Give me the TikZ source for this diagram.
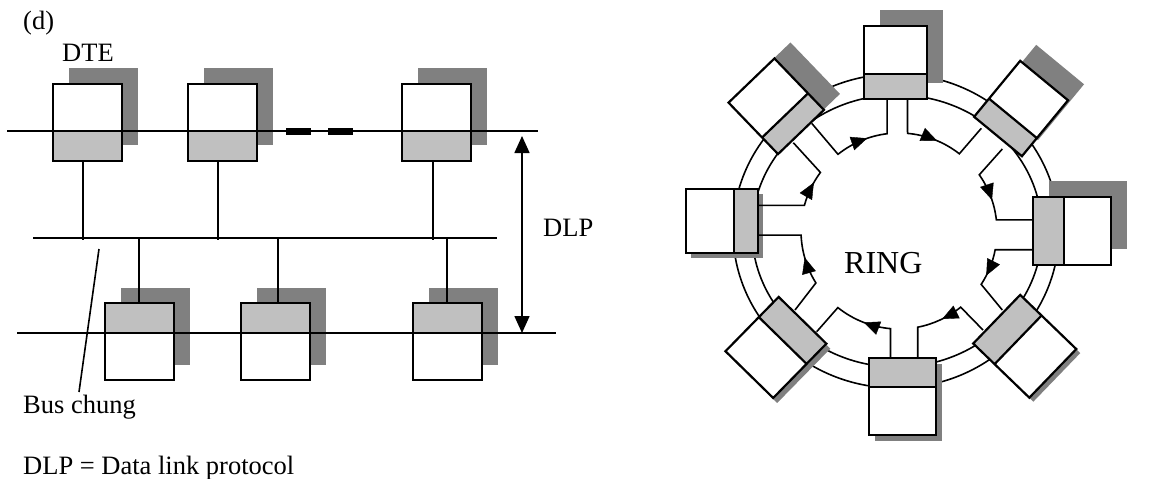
\documentclass[tikz,border=0pt]{standalone}
\usepackage{fontspec}
\setmainfont{Liberation Serif}
\usetikzlibrary{arrows.meta,decorations.markings,calc}
\definecolor{shadowc}{RGB}{128,128,128}
\definecolor{grayc}{RGB}{192,192,192}
\tikzset{
  wire/.style={line width=1.6pt},
  boxline/.style={line width=2.2pt, line join=miter},
  ringarrow/.style={postaction={decorate}, decoration={markings, mark=at position #1 with {\arrow{Triangle[length=16pt,width=14pt]}}}},
  lbl/.style={anchor=base west, inner sep=0pt, font=\fontsize{26.5}{30}\selectfont},
}
% top-row station: name, left x, top y, port x
\newcommand\dteup[4]{%
  \fill[shadowc] ({#2+16},{#3-16}) rectangle ++(69,77);
  \fill[white] (#2,#3) rectangle ++(69,77);
  \fill[grayc] ({#2},{#3+47}) rectangle ++(69,30);
  \draw[boxline] (#2,#3) rectangle ++(69,77);
  \coordinate (#1) at (#4,{#3+77});
}
% bottom-row station: name, left x, top y, port x
\newcommand\dtedown[4]{%
  \fill[shadowc] ({#2+16},{#3-15}) rectangle ++(69,77);
  \fill[white] (#2,#3) rectangle ++(69,77);
  \fill[grayc] ({#2},{#3}) rectangle ++(69,30);
  \draw[boxline] (#2,#3) rectangle ++(69,77);
  \coordinate (#1) at (#4,#3);
}
% ring station: name, inner-edge centre x, y, rotation, width, height, gray depth, shadow dx, dy
\newcommand\ringbox[9]{%
  \begin{scope}[shift={({#2+(#8)},{#3+(#9)})}, rotate=#4]
    \fill[shadowc] ({-#5/2},0) rectangle ({#5/2},{-#6});
  \end{scope}
  \begin{scope}[shift={(#2,#3)}, rotate=#4]
    \fill[white] ({-#5/2},0) rectangle ({#5/2},{-#6});
    \fill[grayc] ({-#5/2},0) rectangle ({#5/2},{-#7});
    \draw[boxline] ({-#5/2},0) rectangle ({#5/2},{-#6}) ({-#5/2},{-#7}) -- ({#5/2},{-#7});
    \coordinate (#1) at (0,0);
  \end{scope}
}
% ring link: from, start angle, end angle, to, arrow position
\newcommand\ringlink[5]{%
  \draw[wire] (#1) -- ($(rc)+(#2:98)$) arc[start angle=#2, end angle=#3, radius=98] -- (#4);
  \path[ringarrow=#5] ($(rc)+(#2:98)$) arc[start angle=#2, end angle=#3, radius=98];
}
\begin{document}
\begin{tikzpicture}[x=1pt,y=-1pt]
\useasboundingbox (0,0) rectangle (1173,479);
\fill[white] (0,0) rectangle (1173,479);

% ---------------- Bus ----------------
\node[lbl] (dlab) at (23,29.5) {(d)};
\node[lbl] (dte) at (62,61.5) {DTE};

\dteup{a1}{53}{84}{83}
\dteup{a2}{188}{84}{218}
\dteup{a3}{402}{84}{433}
\dtedown{b1}{105}{303}{139}
\dtedown{b2}{241}{303}{278}
\dtedown{b3}{413}{303}{447}

\coordinate (tlL) at (7,131);
\coordinate (tlR) at (538,131);
\coordinate (blL) at (17,333);
\coordinate (blR) at (556,333);
\coordinate (busL) at (33,238);
\coordinate (busR) at (497,238);
\draw[wire] (tlL) -- (tlR);
\draw[wire] (blL) -- (blR);
\draw[wire] (busL) -- (busR);
\draw[line width=7pt] (286,131) -- (311,131) (328,131) -- (353,131);

\foreach \s in {a1,a2,a3} \draw[wire] (\s) -- ($(\s |- busL)+(0,2)$);
\foreach \s in {b1,b2,b3} \draw[wire] (\s) -- (\s |- busL);

\coordinate (dlpT) at (522,136);
\coordinate (dlpB) at (522,333);
\draw[wire, {Triangle[length=17pt,width=15pt]}-{Triangle[length=17pt,width=15pt]}] (dlpT) -- (dlpB);
\node[lbl] (dlp) at (543,236.7) {DLP};

\coordinate (busp) at (99,249);
\coordinate (buspe) at (79,392);
\draw[wire] (busp) -- (buspe);
\node[lbl] (busc) at (23,413) {Bus chung};
\node[lbl] (legend) at (23,474) {DLP = Data link protocol};

% ---------------- Ring ----------------
\draw[wire] (896,231) ellipse [x radius=163, y radius=157];
\draw[wire] (897,231) ellipse [x radius=145, y radius=136];

\ringbox{rT}{895.5}{99}{0}{63}{73}{25}{16}{-16}
\ringbox{rTR}{998}{136.5}{-39.5}{62}{72.5}{23.5}{16}{-16}
\ringbox{rR}{1033}{231}{-90}{68}{78}{31}{16}{-16}
\ringbox{rBR}{996.7}{319.2}{-134}{67.6}{78}{29.7}{4}{4}
\ringbox{rB}{902.5}{358}{-180}{67}{77}{29}{6}{6}
\ringbox{rBL}{802.5}{320.3}{135.6}{66.8}{76}{28.3}{4}{5}
\ringbox{rL}{758}{221}{90}{64}{72}{24}{5}{5}
\ringbox{rTL}{801}{132}{43.9}{63.7}{71.4}{23}{16}{-16}

\node[anchor=base west, inner sep=0pt, font=\fontsize{32}{36}\selectfont] (ring) at (844,273) {RING};

\coordinate (rc) at (899,231);
\coordinate (p1a) at (811.7,123.3); \coordinate (p1b) at (887.1,99);
\coordinate (p2a) at (907.5,99);    \coordinate (p2b) at (981.3,128.3);
\coordinate (p3a) at (1002.3,149);  \coordinate (p3b) at (1033,219.9);
\coordinate (p4a) at (1033,249.7);  \coordinate (p4b) at (1002.3,310);
\coordinate (p5a) at (983,330);     \coordinate (p5b) at (917.7,358);
\coordinate (p6a) at (890.5,358);   \coordinate (p6b) at (816.7,331.7);
\coordinate (p7a) at (795,310);     \coordinate (p7b) at (758,235.1);
\coordinate (p8a) at (758,205.3);   \coordinate (p8b) at (793.3,142.7);

\ringlink{p1a}{-128.5}{-97}{p1b}{0.62}
\ringlink{p2a}{-85}{-52}{p2b}{0.54}
\ringlink{p3a}{-35}{-6.5}{p3b}{0.58}
\ringlink{p4a}{11}{33}{p4b}{0.73}
\ringlink{p5a}{51}{79}{p5b}{0.46}
\ringlink{p6a}{95}{128.6}{p6b}{0.48}
\ringlink{p7a}{148}{177.6}{p7b}{0.55}
\ringlink{p8a}{-164.8}{-143.3}{p8b}{0.67}
\end{tikzpicture}
\end{document}
